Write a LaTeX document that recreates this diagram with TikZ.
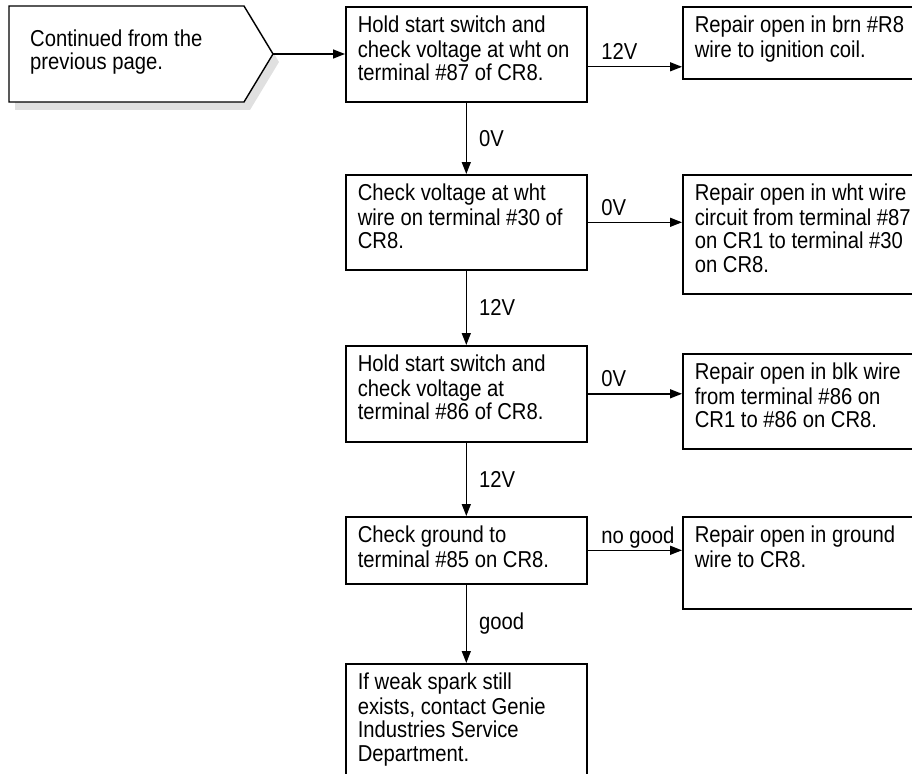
\documentclass[tikz,border=0pt]{standalone}
\usepackage{fontspec}
\setmainfont{Liberation Sans}[FakeStretch=0.88]
\usetikzlibrary{arrows.meta, positioning, calc}
\definecolor{shadow-grey}{gray}{0.88}
\newcommand{\steptext}[2]{%  \steptext{height}{lines}
  \parbox[t][#1][t]{217pt}{\strut#2}}
\tikzset{
  stepbox/.style={draw, line width=1.6pt, anchor=north west,
    inner xsep=12pt, inner ysep=9pt},
  flow/.style={line width=1.4pt, -{Triangle[length=12pt, width=9pt]}},
  vlabel/.style={anchor=west, inner sep=0pt, xshift=12pt},
  hlabel/.style={pos=0, anchor=base west, inner sep=0pt, xshift=13pt, yshift=7pt}
}

\begin{document}
\begin{tikzpicture}[x=1pt, y=-1pt, font=\fontsize{23}{23.5}\selectfont]
  \useasboundingbox (0,0) rectangle (912,773);
  \clip (0,0) rectangle (912,773);
  % Entry block from the previous page
  \fill[shadow-grey] (15,14) -- (250,14) -- (279,62) -- (250,110)
        -- (15,110) -- cycle;
  \draw[fill=white, line width=1.4pt] (9,6) -- (244,6) -- (273,54)
        -- (244,102) -- (9,102) -- cycle;
  \coordinate (tip) at (273,54);
  \node[anchor=west, align=left, inner sep=0pt] (cont) at (30,52)
        {Continued from the\\previous page.};
  % Checks down the middle
  \node[stepbox] (chk1) at (345,6) {\steptext{77pt}{Hold start switch and\\
        check voltage at wht on\\terminal \#87 of CR8.}};
  \node[stepbox] (chk2) at (345,174) {\steptext{77pt}{Check voltage at wht\\
        wire on terminal \#30 of\\CR8.}};
  \node[stepbox] (chk3) at (345,345) {\steptext{78pt}{Hold start switch and\\
        check voltage at\\terminal \#86 of CR8.}};
  \node[stepbox] (chk4) at (345,516) {\steptext{49pt}{Check ground to\\
        terminal \#85 on CR8.}};
  \node[stepbox] (done) at (345,663) {\steptext{132pt}{If weak spark still\\
        exists, contact Genie\\Industries Service\\Department.}};
  % Repairs on the right
  \node[stepbox] (rep1) at (682,6) {\steptext{54pt}{Repair open in brn \#R8\\
        wire to ignition coil.}};
  \node[stepbox] (rep2) at (682,174) {\steptext{101pt}{Repair open in wht wire\\
        circuit from terminal \#87\\on CR1 to terminal \#30\\on CR8.}};
  \node[stepbox] (rep3) at (682,353) {\steptext{77pt}{Repair open in blk wire\\
        from terminal \#86 on\\CR1 to \#86 on CR8.}};
  \node[stepbox] (rep4) at (682,516) {\steptext{74pt}{Repair open in ground\\
        wire to CR8.}};
  % Connectors
  \draw[flow] (tip) -- (tip -| chk1.west);
  \coordinate (out1) at ([yshift=-12.5pt]chk1.east);
  \draw[flow] (out1) -- (out1 -| rep1.west) node[hlabel] {12V};
  \draw[flow] (chk2.east) -- (chk2.east -| rep2.west) node[hlabel] {0V};
  \draw[flow] (chk3.east) -- (chk3.east -| rep3.west) node[hlabel] {0V};
  \draw[flow] (chk4.east) -- (chk4.east -| rep4.west) node[hlabel] {no good};
  %
  \draw[flow] (chk1) -- (chk2) node[vlabel, midway] {0V};
  \draw[flow] (chk2) -- (chk3) node[vlabel, midway] {12V};
  \draw[flow] (chk3) -- (chk4) node[vlabel, midway] {12V};
  \draw[flow] (chk4) -- (done) node[vlabel, midway] {good};
\end{tikzpicture}
\end{document}
